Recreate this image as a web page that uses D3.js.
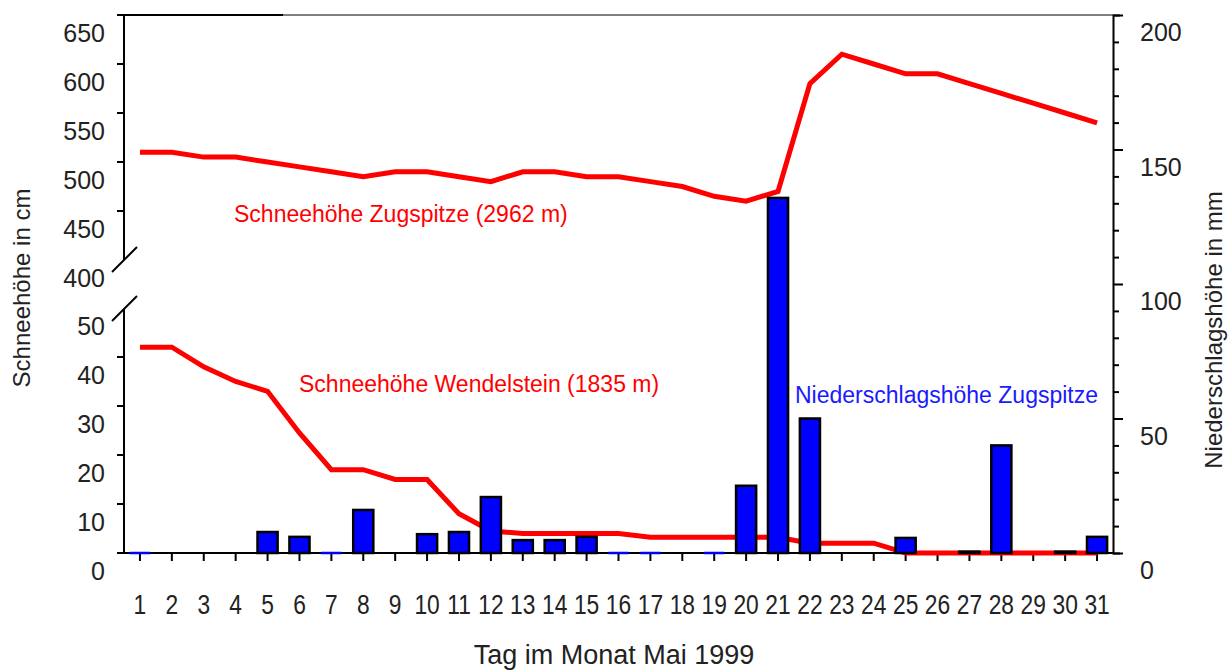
<!DOCTYPE html>
<html lang="de">
<head>
<meta charset="UTF-8" />
<title>Schneehöhe und Niederschlag Mai 1999</title>
<script src="https://cdn.jsdelivr.net/npm/d3@7"></script>
<style>
    body { margin: 0; padding: 0; background: #fff; }
    svg text { font-family: "Liberation Sans", Arial, sans-serif; fill: #222; }
</style>
</head>
<body>
<svg width="1229" height="670"></svg>
<script>
// Tage im Mai 1999
var days = d3.range(1, 32);

// Schneehöhe Zugspitze (cm)
var zugspitze = [510, 510, 505, 505, 500, 495, 490, 485, 490, 490, 485, 480, 490, 490, 485, 485,
                 480, 475, 465, 460, 470, 580, 610, 600, 590, 590, 580, 570, 560, 550, 540];

// Schneehöhe Wendelstein (cm)
var wendelstein = [42, 42, 38, 35, 33, 24.5, 17, 17, 15, 15, 8, 4.5, 4, 4, 4, 4,
                   3.2, 3.2, 3.2, 3.2, 3.2, 2, 2, 2, 0, 0, 0, 0, 0, 0, 0];

// Niederschlagshöhe Zugspitze (mm), null = kein Wert
var niederschlag = [0, null, null, null, 7.8, 6, 0, 16, null, 7, 7.8, 20.8, 4.8, 4.8, 6, 0,
                    0, null, 0, 25, 132, 50, null, null, 5.6, null, 0.5, 40, null, 0.5, 6];

var upperTicks = [450, 500, 550, 600, 650];
var lowerTicks = [0, 10, 20, 30, 40];
var rightTicks = [0, 50, 100, 150, 200];

var svg = d3.select('svg');
var plotL = 124, plotR = 1113, plotB = 553, plotT = 15;

var x = d3.scaleBand().domain(days).range([plotL, plotR]).paddingInner(0.37).paddingOuter(0.185);
var cx = function(d) { return x(d) + x.bandwidth() / 2; };

// zwei Abschnitte der linken Achse (mit Achsenbruch)
var yUpper = d3.scaleLinear().domain([400, 650]).range([260, plotT]);
var yLower = d3.scaleLinear().domain([0, 50]).range([plotB, 308]);
var yRain = d3.scaleLinear().domain([0, 200]).range([plotB, plotT]);

// Rahmen oben
svg.append('line').attr('x1', plotL).attr('x2', plotR).attr('y1', plotT).attr('y2', plotT)
    .attr('stroke', '#000').attr('stroke-width', 1);
svg.append('line').attr('x1', 117).attr('x2', 283).attr('y1', plotT).attr('y2', plotT)
    .attr('stroke', '#000').attr('stroke-width', 2);

// linke Achse, zwei Teile
svg.append('line').attr('x1', plotL).attr('x2', plotL).attr('y1', plotT).attr('y2', 260)
    .attr('stroke', '#000').attr('stroke-width', 2);
svg.append('line').attr('x1', plotL).attr('x2', plotL).attr('y1', 309).attr('y2', plotB)
    .attr('stroke', '#000').attr('stroke-width', 2);
// Bruchstriche
[260, 309].forEach(function(yb) {
    svg.append('line').attr('x1', 112).attr('y1', yb + 12).attr('x2', 137).attr('y2', yb - 13)
        .attr('stroke', '#000').attr('stroke-width', 2);
});

var gl = svg.append('g');
upperTicks.forEach(function(t) {
    gl.append('line').attr('x1', 117).attr('x2', plotL).attr('y1', yUpper(t)).attr('y2', yUpper(t))
        .attr('stroke', '#000').attr('stroke-width', 2);
});
lowerTicks.forEach(function(t) {
    gl.append('line').attr('x1', 117).attr('x2', plotL).attr('y1', yLower(t)).attr('y2', yLower(t))
        .attr('stroke', '#000').attr('stroke-width', 2);
});
gl.selectAll('text.up').data(upperTicks.concat([400])).enter().append('text')
    .attr('x', 105).attr('y', d => yUpper(d) + 18)
    .attr('text-anchor', 'end').attr('dominant-baseline', 'central')
    .style('font-size', '25px').text(d => d);
gl.selectAll('text.lo').data(lowerTicks.concat([50])).enter().append('text')
    .attr('x', 105).attr('y', d => yLower(d) + 18)
    .attr('text-anchor', 'end').attr('dominant-baseline', 'central')
    .style('font-size', '25px').text(d => d);

// rechte Achse
var gr = svg.append('g').attr('transform', 'translate(' + plotR + ',0)');
gr.call(d3.axisRight(yRain).ticks(20).tickSize(7).tickFormat(''));
gr.select('.domain').attr('stroke-width', 2);
gr.selectAll('.tick line').attr('stroke-width', 2)
    .attr('x2', d => d % 50 === 0 ? 10 : 6);
gr.selectAll('text.r').data(rightTicks).enter().append('text')
    .attr('x', 27).attr('y', d => yRain(d) + 17)
    .attr('dominant-baseline', 'central')
    .style('font-size', '25px').text(d => d);

// x-Achse
svg.append('line').attr('x1', 117).attr('x2', plotR).attr('y1', plotB).attr('y2', plotB)
    .attr('stroke', '#000').attr('stroke-width', 2);
svg.selectAll('line.xt').data(days).enter().append('line')
    .attr('x1', cx).attr('x2', cx).attr('y1', plotB).attr('y2', plotB + 8)
    .attr('stroke', '#000').attr('stroke-width', 2);
svg.selectAll('text.xl').data(days).enter().append('text')
    .attr('transform', d => 'translate(' + cx(d) + ',604) scale(0.95,1.15)')
    .attr('text-anchor', 'middle').attr('dominant-baseline', 'central')
    .style('font-size', '24px').text(d => d);

// Achsentitel
svg.append('text').attr('transform', 'translate(30,288) rotate(-90)')
    .attr('text-anchor', 'middle').style('font-size', '24px').text('Schneehöhe in cm');
svg.append('text').attr('transform', 'translate(1222,330) rotate(-90)')
    .attr('text-anchor', 'middle').style('font-size', '24px').text('Niederschlagshöhe in mm');
svg.append('text').attr('x', 614).attr('y', 664)
    .attr('text-anchor', 'middle').style('font-size', '27px').text('Tag im Monat Mai 1999');

// Linien
var lineZ = d3.line().x((d, i) => cx(days[i])).y(d => yUpper(d));
var lineW = d3.line().x((d, i) => cx(days[i])).y(d => yLower(d));
svg.append('path').datum(zugspitze).attr('d', lineZ)
    .attr('fill', 'none').attr('stroke', '#ff0000').attr('stroke-width', 5);
svg.append('path').datum(wendelstein).attr('d', lineW)
    .attr('fill', 'none').attr('stroke', '#ff0000').attr('stroke-width', 5);

// Balken Niederschlag
var rain = days.map((d, i) => ({ day: d, v: niederschlag[i] })).filter(d => d.v !== null);
svg.selectAll('rect.bar').data(rain.filter(d => d.v > 0)).enter().append('rect')
    .attr('x', d => x(d.day)).attr('width', x.bandwidth())
    .attr('y', d => yRain(d.v)).attr('height', d => plotB - yRain(d.v))
    .attr('fill', '#0000ff').attr('stroke', '#000').attr('stroke-width', 2.5);
svg.selectAll('line.zero').data(rain.filter(d => d.v === 0)).enter().append('line')
    .attr('x1', d => x(d.day)).attr('x2', d => x(d.day) + x.bandwidth())
    .attr('y1', plotB).attr('y2', plotB)
    .attr('stroke', '#0000ff').attr('stroke-width', 2.5);

// Beschriftungen
svg.append('text').attr('x', 234).attr('y', 222).style('font-size', '23px')
    .style('fill', '#ff0000').text('Schneehöhe Zugspitze (2962 m)');
svg.append('text').attr('x', 299).attr('y', 392).style('font-size', '23px')
    .style('fill', '#ff0000').text('Schneehöhe Wendelstein (1835 m)');
svg.append('text').attr('x', 795).attr('y', 403).style('font-size', '23px')
    .style('fill', '#1a1aff').text('Niederschlagshöhe Zugspitze');
</script>
</body>
</html>
